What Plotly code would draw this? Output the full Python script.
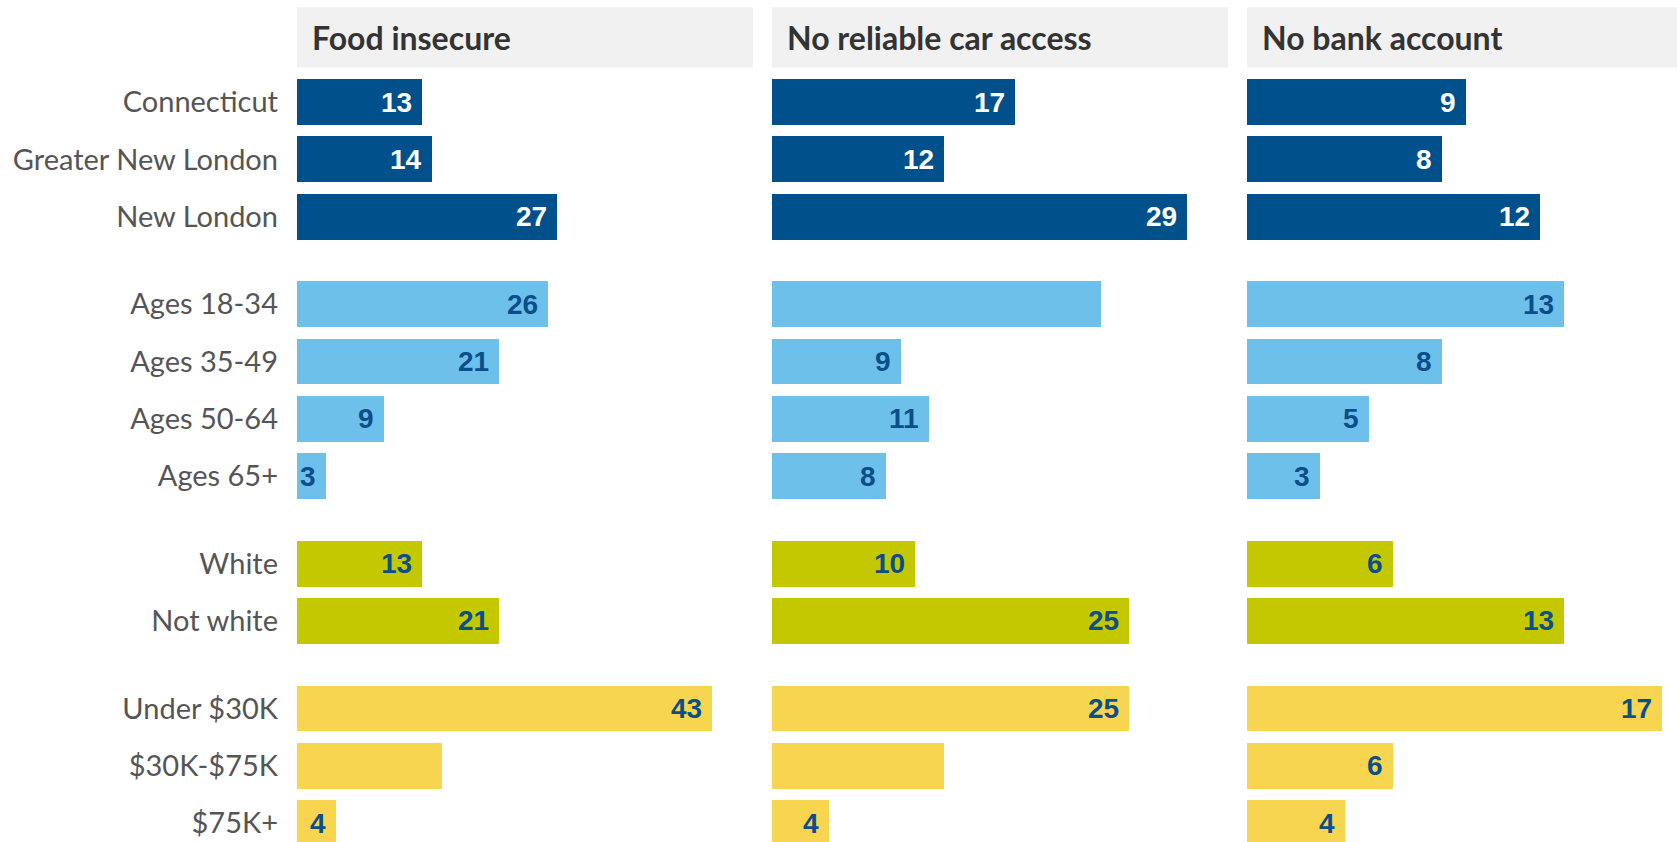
import plotly.graph_objects as go

# Row labels, grouped: region, age, race, household income
categories = ["Connecticut", "Greater New London", "New London",
              "Ages 18-34", "Ages 35-49", "Ages 50-64", "Ages 65+",
              "White", "Not white",
              "Under $30K", "$30K-$75K", "$75K+"]
group_of_row = [0, 0, 0, 1, 1, 1, 1, 2, 2, 3, 3, 3]

panel_titles = ["Food insecure", "No reliable car access", "No bank account"]

# Percent of residents in each row
food_insecure = [13, 14, 27, 26, 21, 9, 3, 13, 21, 43, 15, 4]
no_car_access = [17, 12, 29, 23, 9, 11, 8, 10, 25, 25, 12, 4]
no_bank_account = [9, 8, 12, 13, 8, 5, 3, 6, 13, 17, 6, 4]

# Which bars carry a printed value
food_labelled = [True] * 10 + [False, True]
car_labelled = [True, True, True, False, True, True, True, True, True, True, False, True]
bank_labelled = [True] * 12

series = [food_insecure, no_car_access, no_bank_account]
labelled = [food_labelled, car_labelled, bank_labelled]

group_colors = ["#00508b", "#6dc0e9", "#c3c800", "#f7d550"]
label_colors = ["#ffffff", "#0b4f8a", "#0b4f8a", "#0b4f8a"]

W, H = 1677, 842
PANEL_W = 456
panel_left = [297, 772, 1247]
GROUP_GAP = 0.53
ROW0_PX = 102.1
PX_PER_ROW = 57.26

ypos = [i + g * GROUP_GAP for i, g in enumerate(group_of_row)]

fig = go.Figure()
annotations = []
shapes = []

for k, (vals, lab) in enumerate(zip(series, labelled)):
    axn = "" if k == 0 else str(k + 1)
    x0 = panel_left[k]
    x1 = min(x0 + PANEL_W, W)
    full_range = max(vals) * 1.1
    xmax = full_range * (x1 - x0) / PANEL_W

    fig.add_trace(go.Bar(
        x=vals, y=ypos, orientation="h",
        width=0.8,
        marker=dict(color=[group_colors[g] for g in group_of_row], line=dict(width=0)),
        xaxis="x" + axn, yaxis="y",
        hoverinfo="skip", showlegend=False,
    ))

    fig.layout["xaxis" + axn] = dict(
        domain=[x0 / W, x1 / W], range=[0, xmax],
        visible=False, fixedrange=True, anchor="y",
    )

    for v, y, g, show in zip(vals, ypos, group_of_row, lab):
        if not show:
            continue
        annotations.append(dict(
            x=v, y=y, xref="x" + axn, yref="y",
            text="<b>" + str(v) + "</b>", showarrow=False,
            xanchor="right", yanchor="middle", xshift=-8,
            font=dict(family="Liberation Sans, Arial, Helvetica", size=28,
                      color=label_colors[g]),
        ))

    # panel header band
    shapes.append(dict(
        type="rect", xref="x" + axn + " domain", yref="paper",
        x0=0, x1=1, y0=1 - 67.5 / H, y1=1 - 7.3 / H,
        fillcolor="#f1f1f1", line=dict(width=0), layer="below",
    ))
    annotations.append(dict(
        x=0, y=1 - 37.5 / H, xref="x" + axn + " domain", yref="paper",
        text="<b>" + panel_titles[k] + "</b>", showarrow=False,
        xanchor="left", yanchor="middle", xshift=13,
        font=dict(family="Lato, Source Sans Pro, Open Sans", size=32, color="#333333"),
    ))

y_top = -ROW0_PX / PX_PER_ROW
y_bot = (H - ROW0_PX) / PX_PER_ROW

fig.update_layout(
    width=W, height=H,
    margin=dict(l=0, r=0, t=0, b=0),
    paper_bgcolor="white", plot_bgcolor="white",
    bargap=0,
    yaxis=dict(
        domain=[0, 1], range=[y_bot, y_top],
        tickvals=ypos, ticktext=categories,
        showgrid=False, zeroline=False, showline=False,
        ticks="", ticklabelstandoff=18,
        tickfont=dict(family="Lato, Source Sans Pro, Open Sans", size=29, color="#555555"),
        anchor="x", fixedrange=True,
    ),
    annotations=annotations,
    shapes=shapes,
)

fig.write_html("out.html")
